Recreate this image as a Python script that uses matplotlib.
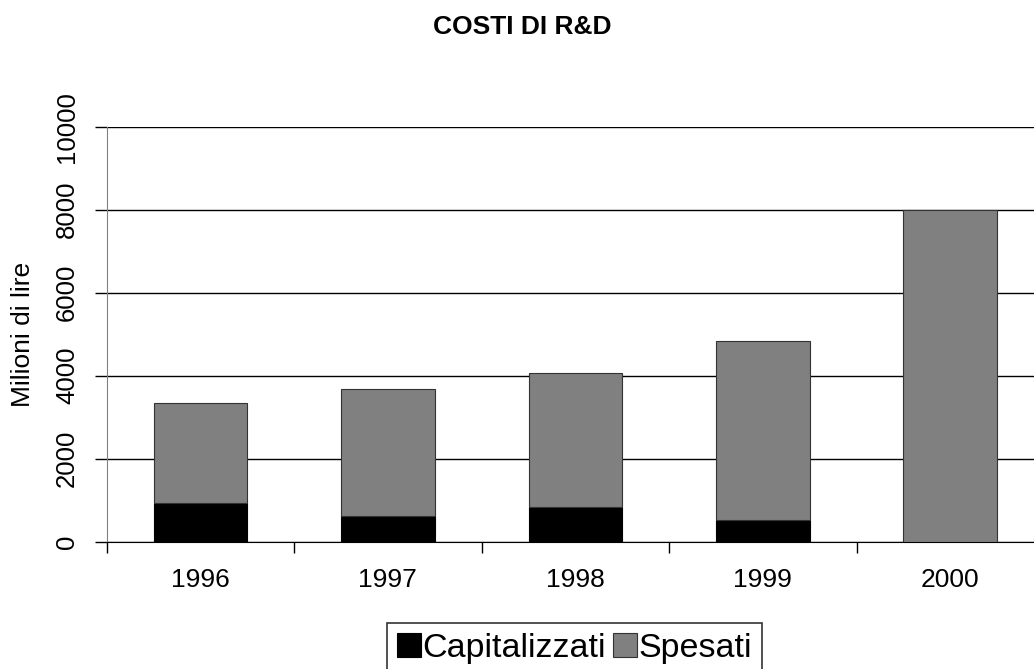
import matplotlib.pyplot as plt
import numpy as np

plt.rcParams['font.family'] = ['Liberation Sans', 'DejaVu Sans']

years = ['1996', '1997', '1998', '1999', '2000']
capitalizzati = [936, 624, 839, 516, 0]
spesati = [2416, 3048, 3226, 4331, 8000]

fig = plt.figure(figsize=(10.34, 6.69), dpi=100)
ax = fig.add_axes([0.1032, 0.1903, 0.9065, 0.6203])

x = np.arange(len(years))
ax.bar(x, capitalizzati, width=0.5, color='black', edgecolor='black', lw=0.8,
       label='Capitalizzati', zorder=3)
ax.bar(x, spesati, width=0.5, bottom=capitalizzati, color='#808080',
       edgecolor='#333333', lw=0.8, label='Spesati', zorder=3)

ax.set_xlim(-0.5, len(years) - 0.5)
ax.set_ylim(0, 10000)
ax.set_yticks(np.arange(0, 10001, 2000))
ax.set_yticklabels([str(v) for v in range(0, 10001, 2000)], rotation=90,
                   va='center', fontsize=18.5)
ax.yaxis.grid(True, color='black', lw=1)
ax.set_axisbelow(True)

ax.set_xticks(x)
ax.set_xticklabels(years, fontsize=19)
ax.set_xticks(np.arange(-0.5, len(years), 1), minor=True)
ax.tick_params(axis='x', which='major', length=0, pad=19)
ax.tick_params(axis='x', which='minor', length=8, width=1, direction='out')
ax.tick_params(axis='y', length=9, width=1, pad=11)

for s in ['top', 'right']:
    ax.spines[s].set_visible(False)
ax.spines['left'].set_color('#808080')
ax.spines['bottom'].set_color('black')

ax.set_ylabel('Milioni di lire', fontsize=19, labelpad=14)
fig.text(0.505, 0.959, 'COSTI DI R&D', fontsize=19, fontweight='bold',
         ha='center', va='center')

leg = fig.legend(loc='upper left', bbox_to_anchor=(0.374, 0.069), ncol=2,
                 fontsize=24.5, frameon=True, fancybox=False, edgecolor='black',
                 handlelength=0.7, handleheight=0.7, handletextpad=0.05,
                 columnspacing=0.2, borderpad=0.3, borderaxespad=0)
leg.get_frame().set_linewidth(1.2)

fig.savefig('out.png', dpi=100)
